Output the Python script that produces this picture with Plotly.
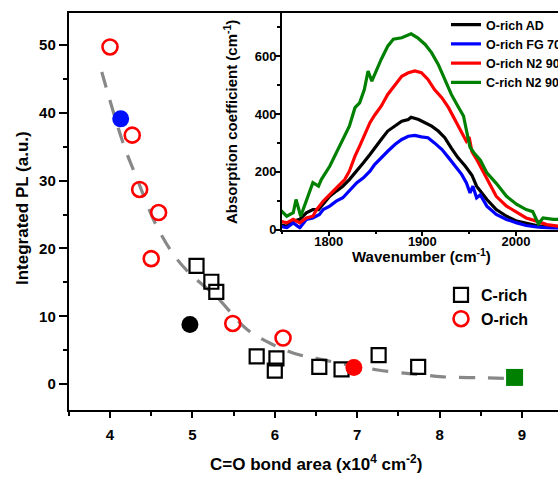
import plotly.graph_objects as go

# ---------------- main panel data ----------------
crich_x = [5.05, 5.23, 5.29, 5.78, 6.02, 6.00, 6.54, 6.81, 7.26, 7.74]
crich_y = [17.45, 15.1, 13.6, 4.1, 3.8, 2.0, 2.55, 2.2, 4.3, 2.55]

orich_x = [4.00, 4.27, 4.36, 4.59, 4.50, 5.49, 6.10]
orich_y = [49.7, 36.7, 28.7, 25.3, 18.5, 8.95, 6.8]

# filled (highlighted) samples
blue_pt_x, blue_pt_y = [4.13], [39.1]
black_pt_x, black_pt_y = [4.97], [8.8]
red_pt_x, red_pt_y = [6.96], [2.45]
green_pt_x, green_pt_y = [8.91], [1.0]

# dashed guide curve
fit_x = [3.9, 4.16, 4.33, 4.57, 4.79, 4.97, 5.3, 5.65, 5.95, 6.25, 6.5, 7.0, 7.25, 7.6, 7.85, 8.1, 8.5, 8.85]
fit_y = [46, 35.5, 30.2, 23.2, 18.8, 16.3, 12.8, 8.2, 6.0, 4.5, 3.8, 2.6, 2.1, 1.6, 1.3, 1.05, 0.95, 0.85]

# ---------------- inset spectra ----------------
wn_black = [1748, 1755, 1762, 1769, 1776, 1783, 1789, 1794, 1801, 1808, 1815, 1822, 1830, 1837, 1844, 1849,
            1856, 1863, 1871, 1878, 1885, 1888, 1896, 1903, 1910, 1917, 1924, 1931, 1938, 1946, 1953, 1958,
            1969, 1979, 1990, 2001, 2011, 2022, 2033, 2046]
ab_black = [17, 11, 29, 35, 58, 69, 69, 87, 115, 133, 150, 173, 202, 231, 260, 283,
            312, 341, 358, 375, 381, 389, 381, 370, 358, 341, 318, 282, 249, 219, 188, 150,
            104, 69, 46, 29, 21, 14, 9, 6]

wn_blue = [1748, 1755, 1762, 1769, 1776, 1783, 1790, 1794, 1801, 1808, 1815, 1822, 1830, 1837, 1844, 1849,
           1856, 1863, 1871, 1878, 1885, 1892, 1899, 1906, 1913, 1921, 1928, 1935, 1942, 1947, 1951, 1954,
           1958, 1962, 1969, 1979, 1990, 2001, 2011, 2022, 2046]
ab_blue = [11, 6, 23, 6, 35, 40, 52, 69, 81, 98, 110, 133, 162, 179, 202, 225,
           249, 271, 295, 312, 323, 326, 321, 318, 300, 277, 249, 219, 191, 162, 127, 150,
           110, 120, 81, 52, 35, 23, 14, 9, 2]

wn_red = [1748, 1755, 1762, 1769, 1776, 1783, 1787, 1794, 1801, 1808, 1817, 1822, 1828, 1833, 1838, 1844,
          1849, 1856, 1863, 1871, 1878, 1885, 1892, 1899, 1906, 1913, 1921, 1928, 1935, 1942, 1947, 1950,
          1953, 1958, 1969, 1979, 1990, 2001, 2011, 2022, 2033, 2046]
ab_red = [29, 23, 35, 23, 40, 46, 69, 98, 121, 144, 173, 202, 254, 289, 323, 370,
          396, 427, 468, 503, 531, 543, 549, 543, 520, 485, 456, 422, 381, 341, 306, 320,
          270, 243, 173, 115, 81, 58, 40, 29, 17, 11]

wn_green = [1748, 1755, 1762, 1765, 1770, 1774, 1783, 1789, 1792, 1801, 1808, 1815, 1822, 1828, 1833, 1838,
            1842, 1846, 1851, 1856, 1863, 1869, 1878, 1888, 1895, 1903, 1910, 1917, 1924, 1931, 1938, 1944,
            1948, 1951, 1956, 1962, 1969, 1979, 1990, 2001, 2011, 2018, 2024, 2029, 2040, 2046]
ab_green = [69, 46, 58, 104, 46, 81, 162, 150, 173, 219, 266, 312, 358, 422, 439, 485,
            549, 514, 555, 589, 635, 659, 664, 678, 664, 641, 612, 572, 520, 468, 427, 393,
            330, 285, 262, 240, 196, 160, 115, 87, 69, 62, 20, 40, 35, 35]

main_x_ticks = [4, 5, 6, 7, 8, 9]
main_y_ticks = [0, 10, 20, 30, 40, 50]
inset_x_ticks = [1800, 1900, 2000]
inset_y_ticks = [0, 200, 400, 600]

FONT = "Liberation Sans"

fig = go.Figure()

# guide curve
fig.add_trace(go.Scatter(x=fit_x, y=fit_y, mode="lines", line=dict(color="#888888", width=3.2, dash="16px,13px", shape="spline"),
                         showlegend=False, hoverinfo="skip"))

fig.add_trace(go.Scatter(x=crich_x, y=crich_y, mode="markers", name="C-rich",
                         marker=dict(symbol="square-open", size=14, color="black", line=dict(width=2.2, color="black")),
                         legend="legend"))
fig.add_trace(go.Scatter(x=orich_x, y=orich_y, mode="markers", name="O-rich",
                         marker=dict(symbol="circle-open", size=15, color="red", line=dict(width=2.6, color="red")),
                         legend="legend"))
for px, py, sym, col in [(blue_pt_x, blue_pt_y, "circle", "#0010ff"),
                         (black_pt_x, black_pt_y, "circle", "black"),
                         (red_pt_x, red_pt_y, "circle", "red"),
                         (green_pt_x, green_pt_y, "square", "#008000")]:
    fig.add_trace(go.Scatter(x=px, y=py, mode="markers", showlegend=False,
                             marker=dict(symbol=sym, size=17, color=col, line=dict(width=0))))

# inset
for wn, ab, name, col in [(wn_black, ab_black, "O-rich AD", "black"),
                          (wn_blue, ab_blue, "O-rich FG 700", "#0000ff"),
                          (wn_red, ab_red, "O-rich N2 900", "#ff0000"),
                          (wn_green, ab_green, "C-rich N2 900", "#008000")]:
    fig.add_trace(go.Scatter(x=wn, y=ab, mode="lines", name=name, xaxis="x2", yaxis="y2",
                             line=dict(color=col, width=3.2), legend="legend2"))

W, H = 558, 477
tickfont_main = dict(family=FONT, size=15, color="black", weight="bold")
tickfont_in = dict(family=FONT, size=13, color="black", weight="bold")

fig.update_layout(
    width=W, height=H,
    margin=dict(l=0, r=0, t=0, b=0, autoexpand=False),
    paper_bgcolor="white", plot_bgcolor="white",
    xaxis=dict(domain=[68.8 / W, 1.0], range=[3.5, 9.437], tickvals=main_x_ticks,
               ticks="outside", ticklen=6, tickwidth=2, tickcolor="black",
               minor=dict(dtick=0.5, tick0=0, ticks="outside", ticklen=4, tickwidth=2, tickcolor="black"),
               showline=True, linecolor="black", linewidth=2, mirror=True, showgrid=False, zeroline=False,
               tickfont=tickfont_main, ticklabelstandoff=4, anchor="y", automargin=False),
    yaxis=dict(domain=[1 - 410 / H, 1 - 13 / H], range=[-3.8, 54.7], tickvals=main_y_ticks,
               ticks="outside", ticklen=8, tickwidth=2, tickcolor="black",
               minor=dict(dtick=5, tick0=0, ticks="outside", ticklen=4, tickwidth=2, tickcolor="black"),
               showline=True, linecolor="black", linewidth=2, showgrid=False, zeroline=False,
               tickfont=tickfont_main, anchor="x", automargin=False),
    xaxis2=dict(domain=[282 / W, 1.0], range=[1750, 2045], tickvals=inset_x_ticks,
                ticks="outside", ticklen=4, tickwidth=2, tickcolor="black",
                minor=dict(dtick=50, tick0=0, ticks="outside", ticklen=2, tickwidth=1.5, tickcolor="black"),
                showline=True, linecolor="black", linewidth=2, mirror=True, showgrid=False, zeroline=False,
                tickfont=tickfont_in, ticklabelstandoff=-5, anchor="y2", automargin=False),
    yaxis2=dict(domain=[1 - 229.5 / H, 1 - 13 / H], range=[0, 750], tickvals=inset_y_ticks,
                ticks="outside", ticklen=5, tickwidth=2, tickcolor="black",
                minor=dict(dtick=100, tick0=0, ticks="outside", ticklen=3, tickwidth=1.5, tickcolor="black"),
                showline=True, linecolor="black", linewidth=2, showgrid=False, zeroline=False,
                tickfont=tickfont_in, ticklabelstandoff=-4, anchor="x2", automargin=False),
    legend=dict(x=441 / W, y=1 - 278 / H, xanchor="left", yanchor="top", bgcolor="rgba(0,0,0,0)",
                font=dict(family=FONT, size=16, color="black", weight="bold"), tracegroupgap=0),
    legend2=dict(x=446 / W, y=1 - 10 / H, xanchor="left", yanchor="top", bgcolor="rgba(0,0,0,0)",
                 font=dict(family=FONT, size=12.5, color="black", weight="bold"), tracegroupgap=0),
    showlegend=True,
    annotations=[
        dict(text="<b>Integrated PL (a.u.)</b>", x=22 / W, y=1 - 208 / H, xref="paper", yref="paper",
             textangle=-90, showarrow=False, xanchor="center", yanchor="middle",
             font=dict(family=FONT, size=17, color="black")),
        dict(text="<b>C=O bond area (x10<sup>4</sup> cm<sup>-2</sup>)</b>", x=316 / W, y=1 - 463 / H,
             xref="paper", yref="paper", showarrow=False, xanchor="center", yanchor="middle",
             font=dict(family=FONT, size=17, color="black")),
        dict(text="<b>Absorption coefficient (cm<sup>-1</sup>)</b>", x=230 / W, y=1 - 122 / H,
             xref="paper", yref="paper", textangle=-90, showarrow=False, xanchor="center", yanchor="middle",
             font=dict(family=FONT, size=15, color="black")),
        dict(text="<b>Wavenumber (cm<sup>-1</sup>)</b>", x=421 / W, y=1 - 255 / H,
             xref="paper", yref="paper", showarrow=False, xanchor="center", yanchor="middle",
             font=dict(family=FONT, size=15, color="black")),
    ],
)

fig.write_html("out.html", config={"displayModeBar": False},
               post_script="document.body.style.margin='0';document.body.style.overflow='hidden';")
